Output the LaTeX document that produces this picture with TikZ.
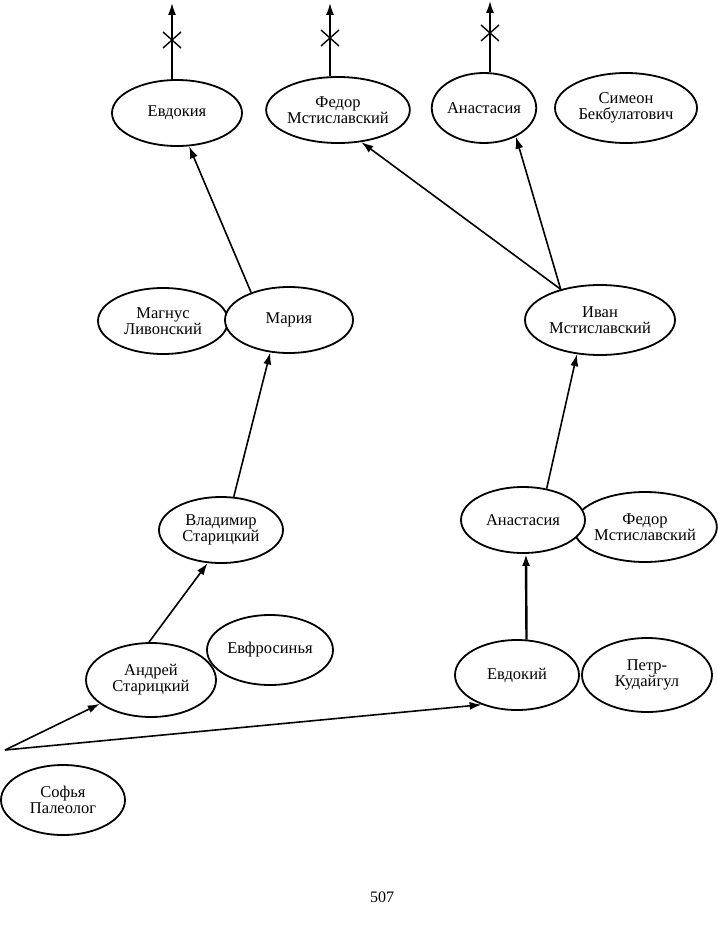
\documentclass[tikz,border=0pt]{standalone}
\usepackage{fontspec}
\setmainfont{Liberation Serif}
\usetikzlibrary{shapes.geometric,arrows.meta}
\begin{document}
\begin{tikzpicture}[x=1pt,y=-1pt,
  p/.style={ellipse,draw,line width=1.8pt,fill=white,inner sep=0pt,align=center,font=\fontsize{16.5}{16}\selectfont},
  a/.style={line width=1.6pt,-{Latex[length=12pt,width=8pt]}}]
\useasboundingbox (0,0) rectangle (717,944);
\node[p,minimum width=130,minimum height=66] (evdokiya) at (177,113) {Евдокия};
\node[p,minimum width=130,minimum height=66] (fedor1) at (338,110) {Федор\\Мстиславский};
\node[p,minimum width=142,minimum height=70] (simeon) at (626,108) {Симеон\\Бекбулатович};
\node[p,minimum width=100,minimum height=70] (anast1) at (484,108) {Анастасия};
\node[p,minimum width=130,minimum height=66] (magnus) at (163,321) {Магнус\\Ливонский};
\node[p,minimum width=128,minimum height=66] (maria) at (289,320) {Мария};
\node[p,minimum width=150,minimum height=70] (ivan) at (600,320) {Иван\\Мстиславский};
\node[p,minimum width=124,minimum height=66] (vladimir) at (221,530) {Владимир\\Старицкий};
\node[p,minimum width=136,minimum height=70] (fedor2) at (645,527) {Федор\\Мстиславский};
\node[p,minimum width=124,minimum height=66] (anast2) at (523,520) {Анастасия};
\node[p,minimum width=126,minimum height=70] (evfros) at (270,650) {Евфросинья};
\node[p,minimum width=130,minimum height=74] (andrei) at (151,680) {Андрей\\Старицкий};
\node[p,minimum width=130,minimum height=74] (petr) at (647,675) {Петр-\\Кудайгул};
\node[p,minimum width=124,minimum height=70] (evdokiy) at (517,675) {Евдокий};
\node[p,minimum width=124,minimum height=70] (sofya) at (63,800) {Софья\\Палеолог};
\coordinate (root) at (5,750);
\coordinate (t1) at (172,3);
\coordinate (t2) at (330,3);
\coordinate (t3) at (490,1);
\draw[a] (maria.144) -- (evdokiya.-70);
\draw[a] (ivan.142) -- (fedor1.-54);
\draw[a] (ivan.142) -- (anast1.-42);
\draw[a] (vladimir.69) -- (maria.-120);
\draw[a] (andrei.93) -- (vladimir.-112);
\draw[a] (anast2.53) -- (ivan.-124);
\draw[a,line width=2.4pt] (evdokiy.75) -- (anast2.-85);
\draw[a] (root) -- (andrei.-155);
\draw[a] (root) -- (evdokiy.-140);
\draw[a] (evdokiya.north -| t1) -- (t1);
\draw[a] (fedor1.north -| t2) -- (t2);
\draw[a] (anast1.north -| t3) -- (t3);
\foreach \c/\y in {t1/40,t2/38,t3/33}{
  \coordinate (m) at (\c |- 0,\y);
  \draw[line width=1.4pt] ([shift={(-9,-8)}]m) -- ([shift={(9,8)}]m) ([shift={(-9,8)}]m) -- ([shift={(9,-8)}]m);
}
\node[font=\fontsize{16}{16}\selectfont] (page) at (382,897) {507};
\end{tikzpicture}
\end{document}
